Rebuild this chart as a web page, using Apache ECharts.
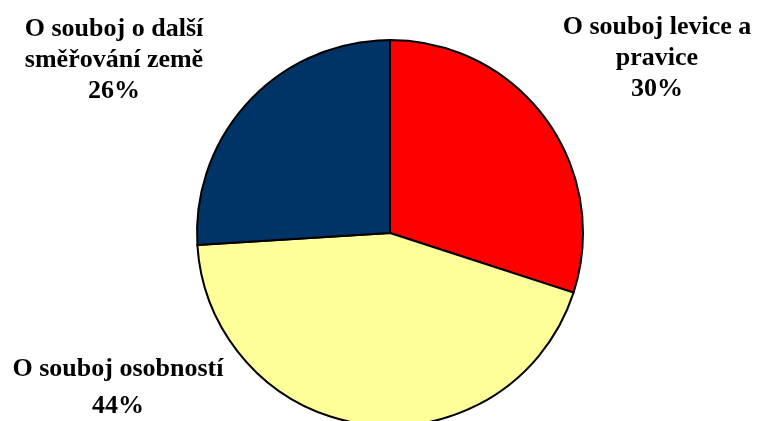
<!DOCTYPE html>
<html><head><meta charset="utf-8">
<script src="https://cdn.jsdelivr.net/npm/echarts@6/dist/echarts.min.js"></script>
<style>html,body{margin:0;padding:0;background:#fff}#c{width:758px;height:421px}</style>
</head><body><div id="c"></div>
<script>
const categories = ['O souboj levice a\npravice', 'O souboj osobností', 'O souboj o další\nsměřování země'];
const values = [30, 44, 26];
const colors = ['#FF0000', '#FFFF99', '#003366'];
const labelPos = [[657, 58], [118, 388], [114, 60]];
const labelLH = [31, 37, 31];

const chart = echarts.init(document.getElementById('c'), null, {renderer: 'canvas'});
chart.setOption({
  animation: false,
  backgroundColor: '#ffffff',
  series: [{
    type: 'pie',
    center: [390, 233],
    radius: 193,
    startAngle: 90,
    clockwise: true,
    data: categories.map((n, i) => ({
      name: n, value: values[i],
      itemStyle: {color: colors[i]},
      label: {lineHeight: labelLH[i]}
    })),
    itemStyle: {borderColor: '#000', borderWidth: 2},
    emphasis: {disabled: true},
    labelLine: {show: false},
    label: {
      show: true,
      position: 'inside',
      overflow: 'none',
      formatter: '{b}\n{d}%',
      fontFamily: '"Liberation Serif", "Times New Roman", serif',
      fontWeight: 'bold',
      fontSize: 26,
      color: '#000',
      align: 'center'
    },
    labelLayout: function (p) {
      const pos = labelPos[p.dataIndex];
      return {x: pos[0], y: pos[1], align: 'center', verticalAlign: 'middle'};
    }
  }]
});
</script></body></html>
